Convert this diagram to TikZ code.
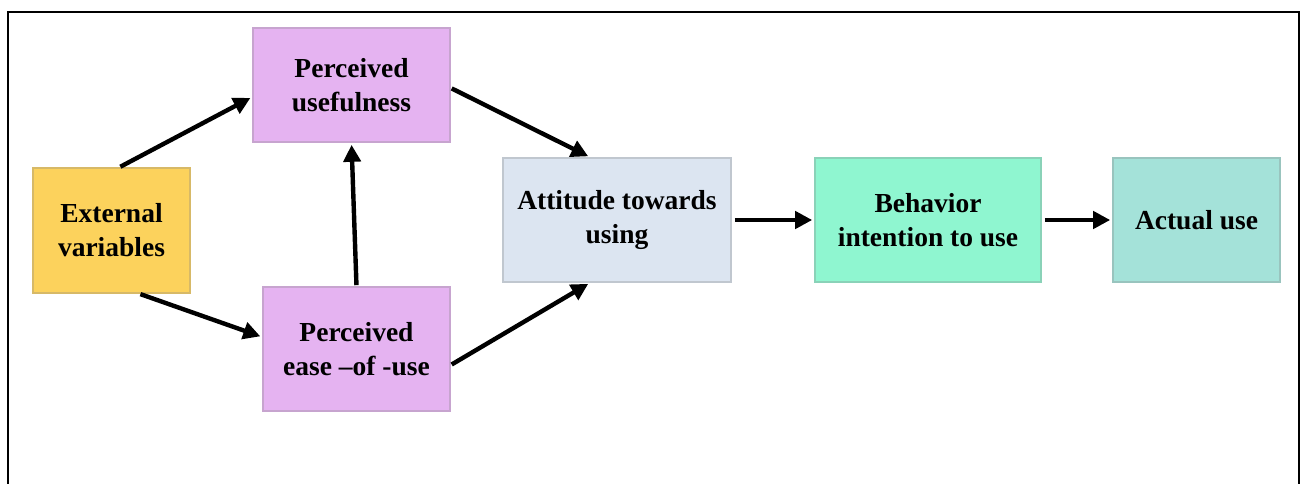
\documentclass[tikz,border=0pt]{standalone}
\usepackage{fontspec}
\setmainfont{Liberation Serif}
\usepackage{tikz}
\usetikzlibrary{arrows.meta}
\definecolor{extyellow}{HTML}{FCD25C}
\definecolor{perclilac}{HTML}{E5B3F1}
\definecolor{attblue}{HTML}{DCE5F1}
\definecolor{behmint}{HTML}{8FF6D0}
\definecolor{actteal}{HTML}{A4E2D9}
\tikzset{
    tambox/.style={draw=#1!70!gray, line width=1.6pt, fill=#1, align=center,
        inner sep=0pt, font=\fontsize{27.5}{34}\selectfont\bfseries},
    tamarrow/.style={line width=4.4pt, -{Triangle[length=17pt, width=17pt]}, shorten >=2pt, shorten <=1pt}
}

\begin{document}
\begin{tikzpicture}[x=1pt, y=-1pt]
            \useasboundingbox (0,0) rectangle (1305,484);
            % frame
            \draw[line width=1.4pt] (8,490) -- (8,12) -- (1299,12) -- (1299,490);
            % boxes
            \node[tambox=extyellow, minimum width=157pt, minimum height=125pt] (ext) at (111.5,230.5) {External\\variables};
            \node[tambox=perclilac, minimum width=197pt, minimum height=114pt] (pu) at (351.5,85) {Perceived\\usefulness};
            \node[tambox=perclilac, minimum width=187pt, minimum height=124pt] (peou) at (356.5,349) {Perceived\\ease --of -use};
            \node[tambox=attblue, minimum width=228pt, minimum height=124pt] (att) at (617,220) {Attitude towards\\using};
            \node[tambox=behmint, minimum width=226pt, minimum height=124pt] (beh) at (928,220) {Behavior\\intention to use};
            \node[tambox=actteal, minimum width=167pt, minimum height=124pt] (act) at (1196.5,220) {Actual use};
            % arrows
            \draw[tamarrow] ([xshift=8pt]ext.north) -- ([yshift=-12pt]pu.west);
            \draw[tamarrow] ([xshift=28pt]ext.south) -- ([yshift=12pt]peou.west);
            \draw[tamarrow] (peou.north) -- (pu.south);
            \draw[tamarrow] ([yshift=-3pt]pu.east) -- ([xshift=-27pt]att.north);
            \draw[tamarrow] ([yshift=-16pt]peou.east) -- ([xshift=-27pt]att.south);
            \draw[tamarrow] ([xshift=2pt]att.east) -- (beh.west);
            \draw[tamarrow] ([xshift=2pt]beh.east) -- (act.west);
\end{tikzpicture}
\end{document}
